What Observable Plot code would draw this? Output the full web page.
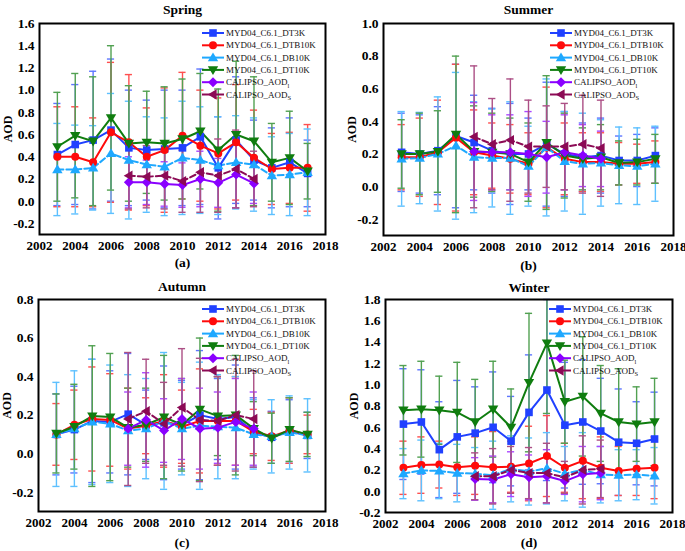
<!DOCTYPE html>
<html><head><meta charset="utf-8">
<script src="https://cdn.jsdelivr.net/npm/d3@7"></script>
<script src="https://cdn.jsdelivr.net/npm/@observablehq/plot@0.6"></script>
<style>
html,body{margin:0;padding:0;background:#fff}
#root{position:relative;width:685px;height:551px;overflow:hidden}
.panel{position:absolute}
</style></head><body>
<div id="root"></div>
<script>
// ---------- categories / tick labels ----------
const years = [2003,2004,2005,2006,2007,2008,2009,2010,2011,2012,2013,2014,2015,2016,2017];
const calYears = [2007,2008,2009,2010,2011,2012,2013,2014];
const xTicks = [2002,2004,2006,2008,2010,2012,2014,2016,2018];
const seriesNames = ["MYD04_C6.1_DT3K","MYD04_C6.1_DTB10K","MYD04_C6.1_DB10K","MYD04_C6.1_DT10K","CALIPSO_AOD","CALIPSO_AOD"];
const seriesSubs = ["","","","","l","S"];
const panelTitles = ["Spring","Summer","Autumn","Winter"];
const panelTags = ["(a)","(b)","(c)","(d)"];
const springYTicks = [-0.2,0,0.2,0.4,0.6,0.8,1.0,1.2,1.4,1.6];
const summerYTicks = [-0.2,0,0.2,0.4,0.6,0.8,1.0];
const autumnYTicks = [-0.2,0,0.2,0.4,0.6,0.8];
const winterYTicks = [-0.2,0,0.2,0.4,0.6,0.8,1.0,1.2,1.4,1.6,1.8];

// ---------- Spring ----------
const springDT3K     = [0.42,0.51,0.55,0.64,0.48,0.46,0.47,0.48,0.58,0.30,0.55,0.37,0.30,0.35,0.25];
const springDT3KErr  = [0.46,0.54,0.62,0.64,0.52,0.45,0.53,0.52,0.61,0.46,0.57,0.36,0.36,0.40,0.30];
const springDTB10K   = [0.40,0.40,0.35,0.62,0.53,0.40,0.46,0.59,0.50,0.43,0.53,0.39,0.29,0.30,0.30];
const springDTB10KErr= [0.45,0.45,0.40,0.63,0.61,0.44,0.56,0.57,0.50,0.50,0.52,0.43,0.32,0.32,0.39];
const springDB10K    = [0.285,0.285,0.30,0.43,0.37,0.33,0.31,0.39,0.37,0.32,0.35,0.33,0.23,0.24,0.26];
const springDB10KErr = [0.415,0.40,0.38,0.54,0.53,0.43,0.44,0.51,0.48,0.44,0.42,0.42,0.35,0.37,0.39];
const springDT10K    = [0.49,0.59,0.54,0.75,0.52,0.53,0.52,0.56,0.63,0.46,0.60,0.54,0.35,0.39,0.27];
const springDT10KErr = [0.49,0.56,0.58,0.65,0.52,0.46,0.51,0.54,0.52,0.55,0.66,0.58,0.35,0.42,0.25];
const springAODl     = [0.17,0.17,0.155,0.145,0.20,0.165,0.24,0.16];
const springAODlErr  = [0.23,0.20,0.20,0.20,0.25,0.22,0.30,0.18];
const springAODs     = [0.23,0.22,0.23,0.18,0.26,0.23,0.29,0.20];
const springAODsErr  = [0.30,0.28,0.30,0.28,0.36,0.33,0.35,0.25];

// ---------- Summer ----------
const summerDT3K     = [0.21,0.20,0.22,0.31,0.27,0.22,0.20,0.20,0.26,0.20,0.18,0.19,0.16,0.16,0.19];
const summerDT3KErr  = [0.24,0.24,0.27,0.44,0.29,0.26,0.31,0.22,0.38,0.26,0.21,0.23,0.15,0.16,0.17];
const summerDTB10K   = [0.18,0.18,0.21,0.30,0.21,0.19,0.17,0.14,0.24,0.17,0.15,0.15,0.14,0.14,0.15];
const summerDTB10KErr= [0.20,0.24,0.32,0.45,0.26,0.20,0.21,0.19,0.37,0.22,0.18,0.18,0.13,0.12,0.13];
const summerDB10K    = [0.17,0.175,0.20,0.25,0.18,0.175,0.175,0.125,0.24,0.155,0.14,0.145,0.13,0.125,0.14];
const summerDB10KErr = [0.29,0.28,0.35,0.45,0.34,0.30,0.345,0.245,0.42,0.305,0.31,0.265,0.235,0.235,0.23];
const summerDT10K    = [0.20,0.20,0.215,0.32,0.215,0.21,0.20,0.15,0.27,0.19,0.17,0.18,0.145,0.15,0.17];
const summerDT10KErr = [0.21,0.25,0.25,0.48,0.28,0.24,0.22,0.24,0.41,0.26,0.19,0.20,0.135,0.14,0.15];
const summerAODl     = [0.215,0.21,0.21,0.20,0.18,0.21,0.19,0.17];
const summerAODlErr  = [0.30,0.23,0.23,0.26,0.22,0.23,0.19,0.17];
const summerAODs     = [0.305,0.26,0.285,0.245,0.245,0.245,0.26,0.235];
const summerAODsErr  = [0.435,0.28,0.375,0.285,0.25,0.265,0.30,0.295];

// ---------- Autumn ----------
const autumnDT3K     = [0.10,0.125,0.17,0.165,0.205,0.15,0.16,0.15,0.20,0.18,0.19,0.11,0.085,0.115,0.095];
const autumnDT3KErr  = [0.21,0.225,0.32,0.265,0.315,0.18,0.295,0.23,0.335,0.21,0.27,0.18,0.135,0.165,0.12];
const autumnDTB10K   = [0.10,0.15,0.18,0.175,0.13,0.145,0.17,0.14,0.17,0.17,0.17,0.115,0.09,0.12,0.10];
const autumnDTB10KErr= [0.16,0.18,0.27,0.24,0.21,0.145,0.24,0.19,0.27,0.23,0.23,0.115,0.125,0.17,0.10];
const autumnDB10K    = [0.10,0.13,0.165,0.155,0.12,0.13,0.17,0.13,0.145,0.14,0.135,0.10,0.09,0.11,0.095];
const autumnDB10KErr = [0.27,0.30,0.325,0.305,0.29,0.26,0.355,0.24,0.33,0.27,0.265,0.18,0.19,0.19,0.19];
const autumnDT10K    = [0.105,0.14,0.195,0.19,0.135,0.15,0.19,0.15,0.23,0.195,0.20,0.13,0.08,0.125,0.10];
const autumnDT10KErr = [0.205,0.22,0.365,0.33,0.205,0.19,0.32,0.24,0.37,0.205,0.31,0.14,0.13,0.165,0.115];
const autumnAODl     = [0.13,0.175,0.12,0.18,0.13,0.135,0.165,0.13];
const autumnAODlErr  = [0.19,0.245,0.165,0.21,0.21,0.185,0.225,0.19];
const autumnAODs     = [0.18,0.22,0.155,0.24,0.175,0.17,0.20,0.18];
const autumnAODsErr  = [0.345,0.27,0.215,0.305,0.32,0.23,0.29,0.25];

// ---------- Winter ----------
const winterDT3K     = [0.63,0.65,0.39,0.51,0.545,0.60,0.47,0.74,0.95,0.62,0.65,0.565,0.46,0.45,0.49];
const winterDT3KErr  = [0.52,0.49,0.45,0.53,0.435,0.52,0.42,0.54,0.85,0.59,0.585,0.495,0.50,0.39,0.44];
const winterDTB10K   = [0.22,0.245,0.25,0.225,0.24,0.225,0.23,0.26,0.33,0.22,0.285,0.22,0.19,0.21,0.22];
const winterDTB10KErr= [0.25,0.265,0.22,0.265,0.27,0.335,0.24,0.35,0.38,0.23,0.355,0.29,0.23,0.25,0.29];
const winterDB10K    = [0.165,0.195,0.19,0.17,0.165,0.15,0.21,0.185,0.215,0.165,0.20,0.155,0.15,0.155,0.145];
const winterDB10KErr = [0.235,0.285,0.26,0.27,0.245,0.32,0.31,0.315,0.335,0.255,0.35,0.265,0.24,0.235,0.265];
const winterDT10K    = [0.76,0.77,0.76,0.74,0.65,0.77,0.60,1.02,1.39,0.84,0.89,0.73,0.65,0.63,0.65];
const winterDT10KErr = [0.42,0.45,0.32,0.47,0.40,0.45,0.36,0.65,0.66,0.39,0.56,0.45,0.50,0.35,0.41];
const winterAODl     = [0.115,0.11,0.16,0.13,0.14,0.095,0.16,0.17];
const winterAODlErr  = [0.20,0.22,0.21,0.21,0.25,0.125,0.26,0.25];
const winterAODs     = [0.14,0.14,0.20,0.17,0.17,0.13,0.20,0.21];
const winterAODsErr  = [0.22,0.26,0.22,0.24,0.28,0.15,0.32,0.27];

// ---------- styles ----------
const colors    = ["#2041ff","#ff0a0a","#1ea8ff","#0f7d0f","#8a00ff","#8c0a55"];
const errColors = ["#5e76ff","#ff4f4f","#5dc0ff","#52a152","#ab47ff","#ac4f85"];
const dashes = [null,null,"6,3",null,null,"6,3"];
function mkSym(fn){ return {draw(ctx,size){ const r=Math.sqrt(size/Math.PI); fn(ctx,r); }}; }
const symSquare  = mkSym((c,r)=>{const s=r*0.95; c.moveTo(-s,-s); c.lineTo(s,-s); c.lineTo(s,s); c.lineTo(-s,s); c.closePath();});
const symCircle  = mkSym((c,r)=>{c.moveTo(r,0); c.arc(0,0,r,0,2*Math.PI); c.closePath();});
const symTriUp   = mkSym((c,r)=>{const s=r*1.3; c.moveTo(0,-s); c.lineTo(s,s*0.7); c.lineTo(-s,s*0.7); c.closePath();});
const symTriDown = mkSym((c,r)=>{const s=r*1.3; c.moveTo(0,s); c.lineTo(s,-s*0.7); c.lineTo(-s,-s*0.7); c.closePath();});
const symDiamond = mkSym((c,r)=>{const s=r*1.25; c.moveTo(0,-s); c.lineTo(s,0); c.lineTo(0,s); c.lineTo(-s,0); c.closePath();});
const symTriLeft = mkSym((c,r)=>{const s=r*1.3; c.moveTo(-s,0); c.lineTo(s*0.7,-s); c.lineTo(s*0.7,s); c.closePath();});
const symbols = [symSquare,symCircle,symTriUp,symTriDown,symDiamond,symTriLeft];

const panels = [
  {left:0,   top:0,   width:342, height:275, ml:39, mr:17, mt:23, mb:41, yDomain:[-0.3,1.6], yTicks:springYTicks, titleDy:-14, tagDy:28,
   means:[springDT3K,springDTB10K,springDB10K,springDT10K,springAODl,springAODs],
   errs:[springDT3KErr,springDTB10KErr,springDB10KErr,springDT10KErr,springAODlErr,springAODsErr]},
  {left:342, top:0,   width:343, height:275, ml:41, mr:12, mt:23, mb:40, yDomain:[-0.3,1.0], yTicks:summerYTicks, titleDy:-14, tagDy:30,
   means:[summerDT3K,summerDTB10K,summerDB10K,summerDT10K,summerAODl,summerAODs],
   errs:[summerDT3KErr,summerDTB10KErr,summerDB10KErr,summerDT10KErr,summerAODlErr,summerAODsErr]},
  {left:0,   top:275, width:342, height:276, ml:38, mr:17, mt:24, mb:40, yDomain:[-0.3,0.8], yTicks:autumnYTicks, titleDy:-13, tagDy:31,
   means:[autumnDT3K,autumnDTB10K,autumnDB10K,autumnDT10K,autumnAODl,autumnAODs],
   errs:[autumnDT3KErr,autumnDTB10KErr,autumnDB10KErr,autumnDT10KErr,autumnAODlErr,autumnAODsErr]},
  {left:342, top:275, width:343, height:276, ml:43, mr:13, mt:24, mb:39, yDomain:[-0.2,1.8], yTicks:winterYTicks, titleDy:-12, tagDy:30,
   means:[winterDT3K,winterDTB10K,winterDB10K,winterDT10K,winterAODl,winterAODs],
   errs:[winterDT3KErr,winterDTB10KErr,winterDB10KErr,winterDT10KErr,winterAODlErr,winterAODsErr]}
];

const root = document.getElementById("root");
panels.forEach((p, pi) => {
  const [ymin, ymax] = p.yDomain;
  const sets = p.means.map((m,k) => (k < 4 ? years : calYears).map((yr,i) => ({year:yr, v:m[i], e:p.errs[k][i]})));
  const marks = [];
  sets.forEach((rows,k) => {
    const o = {stroke:errColors[k], strokeWidth:1.4};
    marks.push(Plot.ruleX(rows, {x:"year", y1:d=>Math.max(d.v-d.e, ymin), y2:d=>Math.min(d.v+d.e, ymax), ...o}));
    marks.push(Plot.ruleY(rows.filter(d => d.v + d.e <= ymax), {y:d=>d.v+d.e, x1:d=>d.year-0.2, x2:d=>d.year+0.2, ...o}));
    marks.push(Plot.ruleY(rows.filter(d => d.v - d.e >= ymin), {y:d=>d.v-d.e, x1:d=>d.year-0.2, x2:d=>d.year+0.2, ...o}));
  });
  sets.forEach((rows,k) => marks.push(Plot.line(rows, {x:"year", y:"v", stroke:colors[k], strokeWidth:2, strokeDasharray:dashes[k] || undefined})));
  sets.forEach((rows,k) => marks.push(Plot.dot(rows, {x:"year", y:"v", symbol:symbols[k], r:4, fill:colors[k], stroke:"none"})));
  marks.push(Plot.frame({stroke:"black", strokeWidth:2}));
  marks.push(Plot.axisX({ticks:xTicks, tickFormat:d=>String(d), tickSize:0, tickPadding:6, label:null, fontSize:13}));
  marks.push(Plot.axisY({ticks:p.yTicks, tickFormat:d=>d.toFixed(1), tickSize:0, tickPadding:5, label:null, fontSize:13.5}));
  marks.push(Plot.text([panelTitles[pi]], {frameAnchor:"top", lineAnchor:"middle", dy:p.titleDy, fontSize:13.5, fontWeight:"bold"}));
  marks.push(Plot.text([panelTags[pi]], {frameAnchor:"bottom", lineAnchor:"middle", dy:p.tagDy, fontSize:13.5, fontWeight:"bold"}));
  marks.push(Plot.text(["AOD"], {frameAnchor:"left", textAnchor:"middle", lineAnchor:"middle", dx:-31, rotate:-90, fontSize:12, fontWeight:"bold"}));

  const svg = Plot.plot({
    width:p.width, height:p.height,
    marginLeft:p.ml, marginRight:p.mr, marginTop:p.mt, marginBottom:p.mb,
    x:{domain:[2002,2018]},
    y:{domain:p.yDomain},
    style:{fontFamily:"'Liberation Serif', 'Times New Roman', serif", fontWeight:"bold", background:"transparent", overflow:"visible"},
    marks
  });
  const div = document.createElement("div");
  div.className = "panel";
  div.style.left = p.left + "px";
  div.style.top = p.top + "px";
  div.appendChild(svg);
  root.appendChild(div);

  // legend (inside frame, top-right)
  const R = p.width - p.mr, T = p.mt;
  const g = d3.select(svg).append("g")
    .attr("font-family","'Liberation Serif', 'Times New Roman', serif")
    .attr("font-weight","normal").attr("font-size","9px")
    .attr("text-anchor","start");
  seriesNames.forEach((name,k) => {
    const y = T + 10 + 12.3*k;
    g.append("line").attr("x1",R-123).attr("x2",R-101).attr("y1",y).attr("y2",y).attr("stroke",colors[k]).attr("stroke-width",2);
    g.append("path").attr("transform",`translate(${R-112},${y})`).attr("d", d3.symbol().type(symbols[k]).size(Math.PI*16)()).attr("fill",colors[k]);
    const t = g.append("text").attr("x",R-99).attr("y",y).attr("dy","0.35em").attr("fill","#111").attr("text-anchor","start").text(name);
    if (seriesSubs[k]) t.append("tspan").attr("font-size","6.5px").attr("dy","2.5").text(seriesSubs[k]);
  });
});
</script></body></html>
